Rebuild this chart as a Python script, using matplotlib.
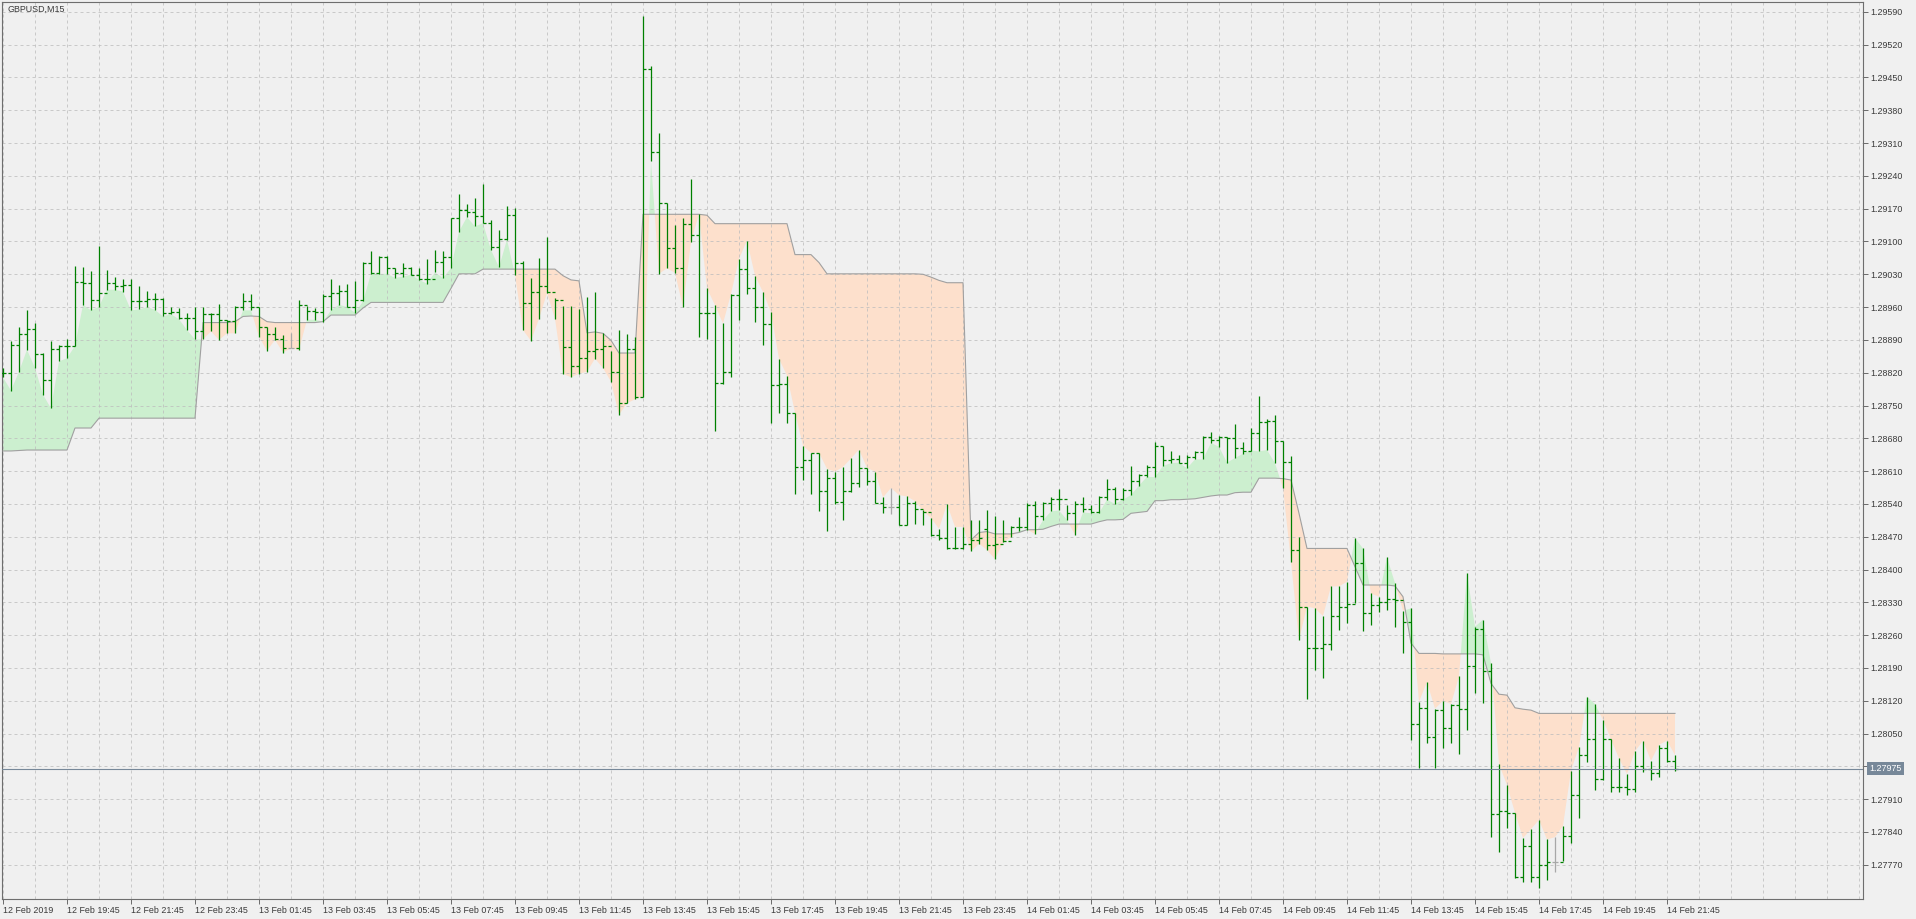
import numpy as np
import pandas as pd
import matplotlib
matplotlib.use('Agg')
import matplotlib.pyplot as plt
from matplotlib.collections import LineCollection

# GBPUSD M15 bars, prices in points (1 point = 0.00001)
Open = [128820, 128820, 128879, 128902, 128914, 128860, 128804, 128870, 128876, 128877,
        129014, 129011, 128975, 128990, 129011, 129005, 129007, 128973, 128974, 128977,
        128977, 128947, 128950, 128936, 128936, 128908, 128945, 128945, 128933, 128931,
        128961, 128974, 128961, 128918, 128902, 128891, 128872, 128872, 128965, 128952,
        128950, 128983, 128991, 128995, 128961, 128975, 129055, 129032, 129066, 129043,
        129032, 129043, 129029, 129020, 129020, 129057, 129066, 129150, 129168, 129163,
        129155, 129140, 129089, 129105, 129157, 129055, 128968, 128992, 129004, 128992,
        128975, 128874, 128834, 128851, 128867, 128870, 128877, 128822, 128755, 128870,
        128769, 129469, 129290, 129183, 129087, 129043, 129138, 129114, 128947, 128947,
        128797, 128822, 128986, 129041, 129000, 128960, 128923, 128793, 128795, 128733,
        128619, 128633, 128649, 128567, 128596, 128544, 128567, 128585, 128617, 128589,
        128542, 128534, 128534, 128495, 128542, 128530, 128522, 128473, 128467, 128447,
        128447, 128455, 128463, 128487, 128453, 128455, 128460, 128490, 128490, 128538,
        128514, 128542, 128551, 128551, 128520, 128540, 128529, 128522, 128554, 128571,
        128551, 128570, 128588, 128602, 128618, 128664, 128634, 128635, 128628, 128640,
        128650, 128682, 128677, 128682, 128680, 128659, 128652, 128691, 128714, 128716,
        128675, 128630, 128442, 128321, 128232, 128232, 128241, 128300, 128321, 128327,
        128413, 128307, 128325, 128330, 128337, 128334, 128289, 128070, 128104, 128042,
        128100, 128061, 128110, 128103, 128194, 128273, 128184, 127878, 127885, 127881,
        127745, 127810, 127743, 127770, 127777, 127777, 127832, 127919, 128004, 128038,
        127953, 128038, 127937, 127937, 127932, 127980, 127974, 127965, 128019, 127992]
High = [128830, 128888, 128918, 128954, 128926, 128862, 128888, 128879, 128891, 129048,
        129045, 129038, 129091, 129039, 129025, 129020, 129020, 129004, 128995, 128991,
        128979, 128961, 128959, 128947, 128960, 128961, 128948, 128966, 128933, 128963,
        128990, 128988, 128961, 128918, 128918, 128901, 128904, 128975, 128963, 128958,
        128988, 129020, 129007, 129009, 129015, 129057, 129079, 129068, 129069, 129043,
        129055, 129045, 129043, 129063, 129082, 129079, 129150, 129202, 129180, 129192,
        129223, 129146, 129125, 129175, 129172, 129059, 129022, 129065, 129110, 128980,
        128962, 128962, 128956, 128982, 128992, 128905, 128866, 128911, 128903, 128897,
        129582, 129475, 129331, 129183, 129136, 129150, 129233, 129159, 129000, 128964,
        128925, 128988, 129063, 129102, 129027, 128992, 128949, 128850, 128814, 128735,
        128664, 128649, 128649, 128615, 128609, 128619, 128637, 128656, 128617, 128609,
        128554, 128574, 128559, 128556, 128546, 128526, 128510, 128487, 128540, 128491,
        128491, 128506, 128506, 128527, 128514, 128506, 128493, 128512, 128543, 128547,
        128545, 128554, 128571, 128538, 128547, 128554, 128538, 128556, 128593, 128577,
        128574, 128621, 128604, 128623, 128673, 128664, 128654, 128645, 128645, 128652,
        128684, 128694, 128685, 128682, 128711, 128673, 128702, 128771, 128721, 128730,
        128675, 128643, 128470, 128321, 128317, 128301, 128364, 128364, 128374, 128467,
        128445, 128349, 128342, 128426, 128371, 128312, 128317, 128118, 128160, 128103,
        128120, 128113, 128172, 128392, 128278, 128293, 128200, 127985, 127940, 127881,
        127827, 127846, 127866, 127824, 127829, 127853, 127971, 128021, 128129, 128113,
        128079, 128038, 127997, 127964, 128012, 128035, 127992, 128026, 128035, 128004]
Low = [128810, 128782, 128822, 128869, 128830, 128773, 128744, 128844, 128851, 128877,
       128965, 128953, 128961, 128997, 128997, 128993, 128953, 128955, 128960, 128954,
       128940, 128945, 128934, 128911, 128891, 128891, 128908, 128890, 128904, 128904,
       128953, 128953, 128897, 128867, 128890, 128863, 128872, 128869, 128933, 128933,
       128929, 128953, 128965, 128960, 128948, 128972, 129031, 129031, 129031, 129022,
       129025, 129029, 129018, 129010, 129034, 129022, 129043, 129121, 129152, 129132,
       129139, 129082, 129045, 129104, 129029, 128911, 128888, 128935, 128990, 128935,
       128818, 128810, 128818, 128822, 128850, 128830, 128801, 128730, 128755, 128763,
       128769, 129272, 129031, 129043, 129033, 128960, 129099, 128896, 128891, 128696,
       128795, 128810, 128933, 128988, 128929, 128880, 128712, 128735, 128712, 128562,
       128591, 128562, 128524, 128483, 128540, 128506, 128566, 128577, 128581, 128542,
       128520, 128518, 128495, 128495, 128498, 128495, 128471, 128463, 128443, 128443,
       128443, 128439, 128455, 128442, 128422, 128458, 128469, 128483, 128485, 128476,
       128505, 128524, 128526, 128506, 128474, 128522, 128520, 128520, 128549, 128540,
       128549, 128559, 128579, 128598, 128597, 128621, 128627, 128628, 128616, 128635,
       128635, 128670, 128662, 128628, 128638, 128647, 128654, 128652, 128655, 128627,
       128574, 128417, 128250, 128124, 128186, 128168, 128229, 128271, 128285, 128328,
       128268, 128282, 128310, 128314, 128278, 128221, 128036, 127976, 128029, 127976,
       128019, 128029, 128007, 128058, 128136, 128115, 127830, 127798, 127848, 127741,
       127734, 127734, 127720, 127738, 127755, 127779, 127816, 127869, 127990, 127930,
       127951, 127926, 127926, 127919, 127926, 127967, 127950, 127958, 127990, 127971]
Close = [128820, 128879, 128902, 128914, 128860, 128804, 128870, 128876, 128877, 129014,
         129011, 128975, 128990, 129011, 129005, 129007, 128973, 128974, 128977, 128977,
         128947, 128950, 128936, 128936, 128908, 128945, 128945, 128933, 128931, 128961,
         128974, 128961, 128918, 128902, 128891, 128872, 128872, 128965, 128952, 128950,
         128983, 128991, 128995, 128961, 128975, 129055, 129032, 129066, 129043, 129032,
         129043, 129029, 129020, 129020, 129057, 129066, 129150, 129168, 129163, 129155,
         129140, 129089, 129105, 129157, 129055, 128968, 128992, 129004, 128992, 128975,
         128874, 128834, 128851, 128867, 128870, 128877, 128822, 128755, 128870, 128769,
         129469, 129290, 129183, 129087, 129043, 129138, 129114, 128947, 128947, 128797,
         128822, 128986, 129041, 129000, 128960, 128923, 128793, 128795, 128733, 128619,
         128633, 128649, 128567, 128596, 128544, 128567, 128585, 128617, 128589, 128542,
         128534, 128534, 128495, 128542, 128530, 128522, 128473, 128467, 128447, 128447,
         128455, 128463, 128467, 128453, 128455, 128460, 128490, 128490, 128538, 128514,
         128542, 128551, 128551, 128520, 128540, 128529, 128522, 128554, 128571, 128551,
         128570, 128588, 128602, 128618, 128664, 128634, 128635, 128628, 128640, 128650,
         128682, 128677, 128682, 128680, 128659, 128652, 128691, 128714, 128716, 128675,
         128630, 128442, 128321, 128232, 128232, 128241, 128300, 128321, 128327, 128413,
         128307, 128325, 128330, 128337, 128334, 128289, 128070, 128104, 128042, 128100,
         128061, 128110, 128103, 128194, 128273, 128184, 127878, 127885, 127881, 127745,
         127810, 127743, 127770, 127777, 127777, 127832, 127919, 128004, 128038, 127953,
         128038, 127937, 127937, 127932, 127980, 127974, 127965, 128019, 127992, 127975]
# trailing stop line of the indicator
Stop = [128653, 128653, 128654, 128655, 128655, 128655, 128655, 128655, 128655, 128702,
        128702, 128702, 128723, 128723, 128723, 128723, 128723, 128723, 128723, 128723,
        128723, 128723, 128723, 128723, 128723, 128927, 128927, 128927, 128927, 128929,
        128940, 128941, 128940, 128929, 128927, 128927, 128927, 128927, 128927, 128927,
        128929, 128943, 128943, 128943, 128943, 128958, 128970, 128970, 128970, 128970,
        128970, 128970, 128970, 128970, 128970, 128970, 129000, 129031, 129031, 129031,
        129041, 129041, 129041, 129041, 129041, 129041, 129041, 129041, 129041, 129041,
        129027, 129018, 129016, 128905, 128907, 128904, 128889, 128862, 128862, 128862,
        129158, 129158, 129158, 129158, 129158, 129158, 129158, 129158, 129156, 129138,
        129138, 129138, 129138, 129138, 129138, 129138, 129138, 129138, 129138, 129072,
        129072, 129072, 129055, 129031, 129031, 129031, 129031, 129031, 129031, 129031,
        129031, 129031, 129031, 129031, 129031, 129030, 129024, 129017, 129012, 129012,
        129012, 128463, 128479, 128481, 128476, 128476, 128476, 128479, 128485, 128485,
        128486, 128492, 128497, 128497, 128497, 128497, 128497, 128502, 128506, 128506,
        128507, 128520, 128522, 128524, 128547, 128547, 128549, 128549, 128550, 128551,
        128554, 128557, 128559, 128559, 128564, 128565, 128565, 128595, 128595, 128595,
        128594, 128591, 128520, 128445, 128445, 128445, 128445, 128445, 128445, 128406,
        128367, 128367, 128367, 128367, 128365, 128342, 128243, 128221, 128221, 128221,
        128220, 128220, 128220, 128220, 128220, 128218, 128157, 128134, 128132, 128105,
        128102, 128100, 128093, 128093, 128093, 128093, 128093, 128093, 128093, 128093,
        128093, 128093, 128093, 128093, 128093, 128093, 128093, 128093, 128093, 128093]
Trend_Start = {0: 1, 87: -1, 121: 1, 163: -1}
Doji_Bars = [36, 111, 194]
Last_Price = 1.27975
Price_Ticks = [1.27770, 1.27840, 1.27910, 1.27980, 1.28050, 1.28120, 1.28190, 1.28260, 1.28330,
               1.28400, 1.28470, 1.28540, 1.28610, 1.28680, 1.28750, 1.28820, 1.28890, 1.28960,
               1.29030, 1.29100, 1.29170, 1.29240, 1.29310, 1.29380, 1.29450, 1.29520, 1.29590]
First_Bar = '2019-02-12 17:45'

plt.rcParams['font.family'] = ['Liberation Sans', 'DejaVu Sans']
O = np.array(Open) / 1e5
H = np.array(High) / 1e5
L = np.array(Low) / 1e5
C = np.array(Close) / 1e5
S = np.array(Stop) / 1e5
N = len(O)
X = np.arange(N)
Times = pd.date_range(First_Bar, periods=N, freq='15min')

Trend = np.zeros(N)
for start, t in Trend_Start.items():
    Trend[start:] = t
Edge = np.where(Trend > 0, L, H)

BG = '#f0f0f0'
fig = plt.figure(figsize=(19.16, 9.19), dpi=100, facecolor=BG)
ax = fig.add_axes([2 / 1916, 20 / 919, 1861 / 1916, 897 / 919], facecolor=BG)
ax.set_xlim(-0.125, 232.5)
ax.set_ylim(1.27697, 1.29611)

ax.fill_between(X, Edge, S, where=Edge >= S, interpolate=True, color='#ccefcf', lw=0, zorder=1)
ax.fill_between(X, Edge, S, where=Edge <= S, interpolate=True, color='#fde0cc', lw=0, zorder=1)

# dashed grid drawn over the fills
for p in Price_Ticks:
    ax.axhline(p, color='#bdbdbd', lw=0.72, dashes=(3, 3), alpha=0.75, zorder=2)
for i in range(0, 233, 4):
    ax.axvline(i, color='#bdbdbd', lw=0.72, dashes=(3, 3), alpha=0.75, zorder=2)

ax.plot(X, S, color='#a0a0a0', lw=0.8, zorder=3)

segs, cols = [], []
for i in range(N):
    col = '#a8a8a8' if i in Doji_Bars else '#008000'
    segs += [[(i, L[i]), (i, H[i])], [(i - 0.4, O[i]), (i, O[i])], [(i, C[i]), (i + 0.4, C[i])]]
    cols += [col] * 3
ax.add_collection(LineCollection(segs, colors=cols, linewidths=0.9, zorder=4))

ax.axhline(Last_Price, color='#778899', lw=0.8, zorder=5)

for sp in ax.spines.values():
    sp.set_color('#6e6e6e')
    sp.set_linewidth(0.8)

ax.yaxis.tick_right()
ax.set_yticks(Price_Ticks)
ax.set_yticklabels(['' if abs(p - 1.2798) < 1e-6 else f'{p:.5f}' for p in Price_Ticks])
xt = list(range(0, N, 8))
ax.set_xticks(xt)
xl = ['12 Feb 2019'] + [Times[i].strftime('%d %b %H:%M') for i in xt[1:]]
ax.set_xticklabels(xl, ha='left')
ax.tick_params(axis='both', colors='#6e6e6e', labelcolor='#3a3a3a', labelsize=6.4,
               length=3.5, width=0.72, direction='out')
ax.tick_params(axis='y', pad=2)
ax.tick_params(axis='x', pad=1.5)

ax.annotate(f'{Last_Price:.5f}', xy=(1.0, Last_Price), xycoords=('axes fraction', 'data'),
            xytext=(4.5, 0), textcoords='offset points', va='center', ha='left',
            fontsize=6.4, color='white',
            bbox=dict(boxstyle='square,pad=0.25', fc='#778899', ec='none'))

fig.text(7 / 1916, 1 - 9.5 / 919, 'GBPUSD,M15', ha='left', va='center', fontsize=6.4, color='#3a3a3a')

fig.savefig('out.png', dpi=100, facecolor=BG)
